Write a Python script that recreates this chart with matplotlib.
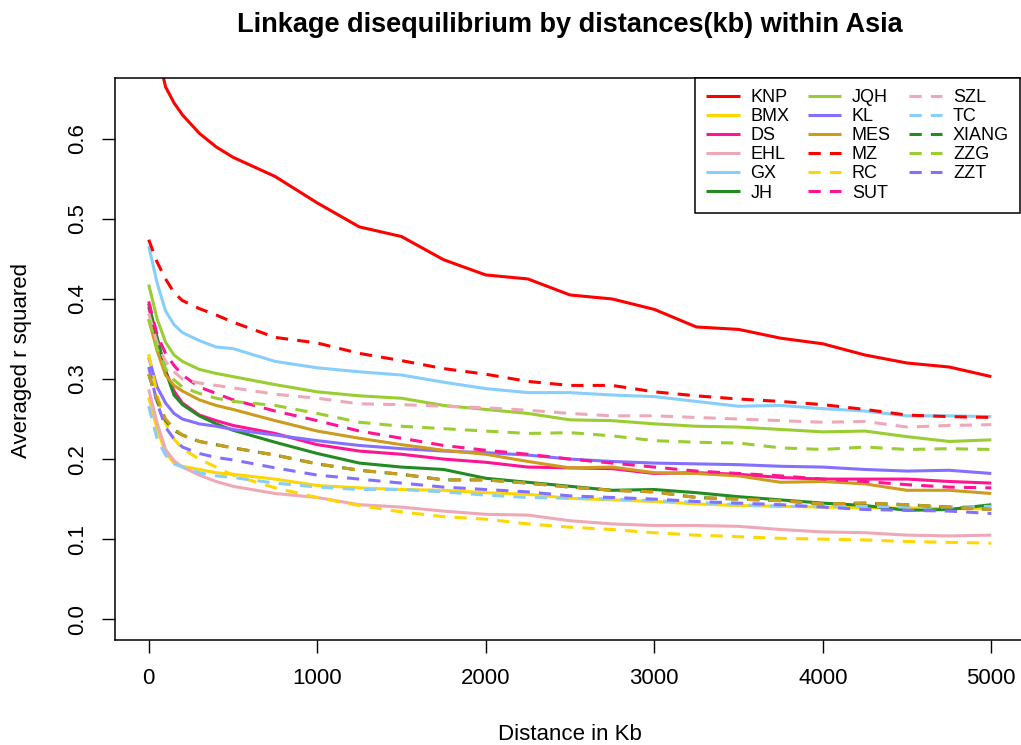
import matplotlib as mpl
import matplotlib.pyplot as plt
import numpy as np

mpl.use("Agg")
plt.rcParams["font.family"] = ["Liberation Sans", "DejaVu Sans"]

# distance grid (kb)
dist_kb = [0, 50, 100, 150, 200, 300, 400, 500, 750, 1000, 1250, 1500, 1750,
           2000, 2250, 2500, 2750, 3000, 3250, 3500, 3750, 4000, 4250, 4500,
           4750, 5000]

# averaged r squared per population
knp = [0.760, 0.710, 0.665, 0.645, 0.630, 0.607, 0.590, 0.577, 0.553, 0.520,
       0.490, 0.478, 0.449, 0.430, 0.425, 0.405, 0.400, 0.387, 0.365, 0.362,
       0.351, 0.344, 0.330, 0.320, 0.315, 0.303]
bmx = [0.277, 0.237, 0.208, 0.195, 0.191, 0.187, 0.183, 0.181, 0.175, 0.167,
       0.164, 0.162, 0.161, 0.158, 0.156, 0.151, 0.149, 0.147, 0.144, 0.142,
       0.141, 0.140, 0.139, 0.139, 0.138, 0.138]
ds = [0.390, 0.350, 0.310, 0.285, 0.270, 0.255, 0.248, 0.242, 0.232, 0.218,
      0.210, 0.206, 0.200, 0.196, 0.190, 0.189, 0.188, 0.182, 0.183, 0.181,
      0.177, 0.175, 0.175, 0.175, 0.172, 0.170]
ehl = [0.287, 0.245, 0.212, 0.198, 0.190, 0.180, 0.172, 0.166, 0.157, 0.152,
       0.143, 0.140, 0.135, 0.131, 0.130, 0.123, 0.119, 0.117, 0.117, 0.116,
       0.112, 0.109, 0.108, 0.105, 0.104, 0.105]
gx = [0.466, 0.420, 0.385, 0.368, 0.358, 0.348, 0.340, 0.338, 0.322, 0.314,
      0.309, 0.305, 0.296, 0.288, 0.283, 0.283, 0.280, 0.278, 0.272, 0.266,
      0.267, 0.263, 0.260, 0.254, 0.254, 0.253]
jh = [0.394, 0.352, 0.310, 0.280, 0.268, 0.254, 0.244, 0.236, 0.221, 0.207,
      0.195, 0.190, 0.187, 0.176, 0.171, 0.166, 0.161, 0.162, 0.158, 0.153,
      0.149, 0.145, 0.142, 0.136, 0.137, 0.143]
jqh = [0.418, 0.375, 0.346, 0.330, 0.322, 0.312, 0.307, 0.303, 0.293, 0.284,
       0.279, 0.276, 0.267, 0.262, 0.257, 0.249, 0.248, 0.244, 0.241, 0.240,
       0.237, 0.234, 0.235, 0.228, 0.222, 0.224]
kl = [0.327, 0.290, 0.270, 0.257, 0.250, 0.244, 0.241, 0.237, 0.230, 0.223,
      0.217, 0.213, 0.210, 0.208, 0.205, 0.200, 0.197, 0.195, 0.194, 0.193,
      0.191, 0.190, 0.187, 0.185, 0.186, 0.182]
mes = [0.375, 0.335, 0.305, 0.292, 0.285, 0.274, 0.267, 0.262, 0.248, 0.235,
       0.226, 0.218, 0.211, 0.206, 0.197, 0.189, 0.190, 0.183, 0.182, 0.179,
       0.171, 0.172, 0.169, 0.161, 0.161, 0.157]
mz = [0.474, 0.446, 0.425, 0.408, 0.398, 0.388, 0.380, 0.371, 0.352, 0.345,
      0.332, 0.323, 0.313, 0.306, 0.297, 0.292, 0.292, 0.284, 0.279, 0.275,
      0.272, 0.268, 0.262, 0.255, 0.253, 0.252]
rc = [0.331, 0.280, 0.245, 0.225, 0.213, 0.200, 0.190, 0.180, 0.164, 0.152,
      0.142, 0.134, 0.128, 0.125, 0.119, 0.115, 0.112, 0.108, 0.105, 0.103,
      0.101, 0.100, 0.099, 0.097, 0.096, 0.095]
sut = [0.397, 0.355, 0.332, 0.317, 0.305, 0.290, 0.282, 0.274, 0.260, 0.248,
       0.235, 0.226, 0.217, 0.211, 0.206, 0.200, 0.195, 0.190, 0.185, 0.182,
       0.179, 0.175, 0.172, 0.168, 0.165, 0.164]
szl = [0.382, 0.345, 0.322, 0.309, 0.300, 0.295, 0.292, 0.289, 0.281, 0.276,
       0.269, 0.268, 0.266, 0.264, 0.261, 0.257, 0.254, 0.254, 0.252, 0.250,
       0.248, 0.246, 0.247, 0.240, 0.242, 0.243]
tc = [0.266, 0.225, 0.205, 0.194, 0.190, 0.183, 0.179, 0.177, 0.170, 0.165,
      0.162, 0.162, 0.159, 0.155, 0.152, 0.151, 0.150, 0.148, 0.146, 0.143,
      0.141, 0.141, 0.141, 0.140, 0.140, 0.141]
xiang = [0.306, 0.272, 0.248, 0.236, 0.230, 0.222, 0.218, 0.214, 0.205, 0.194,
         0.186, 0.181, 0.174, 0.174, 0.170, 0.165, 0.161, 0.159, 0.152, 0.150,
         0.148, 0.144, 0.145, 0.143, 0.140, 0.137]
zzg = [0.374, 0.338, 0.313, 0.299, 0.290, 0.282, 0.276, 0.272, 0.267, 0.257,
       0.246, 0.241, 0.238, 0.235, 0.232, 0.233, 0.229, 0.223, 0.221, 0.220,
       0.214, 0.212, 0.215, 0.212, 0.213, 0.212]
zzt = [0.315, 0.270, 0.240, 0.225, 0.215, 0.207, 0.202, 0.199, 0.189, 0.180,
       0.175, 0.170, 0.165, 0.162, 0.159, 0.154, 0.152, 0.150, 0.147, 0.145,
       0.143, 0.140, 0.137, 0.136, 0.135, 0.132]
# 18th series, drawn but missing from the legend
extra = [0.306, 0.275, 0.250, 0.238, 0.230, 0.222, 0.218, 0.214, 0.205, 0.194,
         0.186, 0.181, 0.174, 0.174, 0.170, 0.165, 0.161, 0.159, 0.152, 0.150,
         0.148, 0.144, 0.145, 0.143, 0.140, 0.137]

pops = ["KNP", "BMX", "DS", "EHL", "GX", "JH", "JQH", "KL", "MES",
        "MZ", "RC", "SUT", "SZL", "TC", "XIANG", "ZZG", "ZZT", None]
series = [knp, bmx, ds, ehl, gx, jh, jqh, kl, mes,
          mz, rc, sut, szl, tc, xiang, zzg, zzt, extra]

palette = ["#FF0000", "#FFD700", "#FF1493", "#EEA9B8", "#87CEFA",
           "#228B22", "#9ACD32", "#8470FF", "#CD9B1D"]

fig = plt.figure(figsize=(10.21, 7.45), dpi=100)
ax = fig.add_axes([115 / 1021, 105 / 745, 910 / 1021, 562 / 745])

for i, (name, vals) in enumerate(zip(pops, series)):
    col = palette[i % 9]
    if i < 9:
        ax.plot(dist_kb, vals, color=col, lw=2.2, label=name,
                solid_capstyle="butt")
    else:
        ax.plot(dist_kb, vals, color=col, lw=2.2, label=name,
                linestyle=(0, (4, 3)), dash_capstyle="butt")

ax.set_xlim(-200, 5200)
ax.set_ylim(-0.026, 0.676)
ax.set_xticks([0, 1000, 2000, 3000, 4000, 5000])
ax.set_yticks([0.0, 0.1, 0.2, 0.3, 0.4, 0.5, 0.6])
ax.set_yticklabels(["0.0", "0.1", "0.2", "0.3", "0.4", "0.5", "0.6"],
                   rotation=90, va="center")
ax.tick_params(direction="out", length=9.5, width=1, labelsize=16,
               color="black")
ax.tick_params(axis="x", pad=11)
ax.tick_params(axis="y", pad=10)
for sp in ax.spines.values():
    sp.set_linewidth(1.1)
    sp.set_color("black")

fig.text(570 / 1021, 1 - 25 / 745,
         "Linkage disequilibrium by distances(kb) within Asia",
         ha="center", va="center", fontsize=19.5, fontweight="bold")
fig.text(570 / 1021, 1 - 735 / 745, "Distance in Kb",
         ha="center", va="center", fontsize=16)
fig.text(22 / 1021, 1 - 360 / 745, "Averaged r squared",
         ha="center", va="center", fontsize=16, rotation=90)

handles, labels = ax.get_legend_handles_labels()
leg = ax.legend(handles[:17], labels[:17], ncol=3, loc="upper right",
                bbox_to_anchor=(1020 / 1021, 1 - 78 / 745),
                bbox_transform=fig.transFigure,
                fontsize=13, frameon=True, fancybox=False,
                borderaxespad=0, borderpad=0.6, handlelength=1.85,
                handletextpad=0.6, columnspacing=1.0, labelspacing=0.12)
leg.get_frame().set_edgecolor("black")
leg.get_frame().set_linewidth(1.1)
leg.get_frame().set_alpha(1)

fig.savefig("out.png", dpi=100)
